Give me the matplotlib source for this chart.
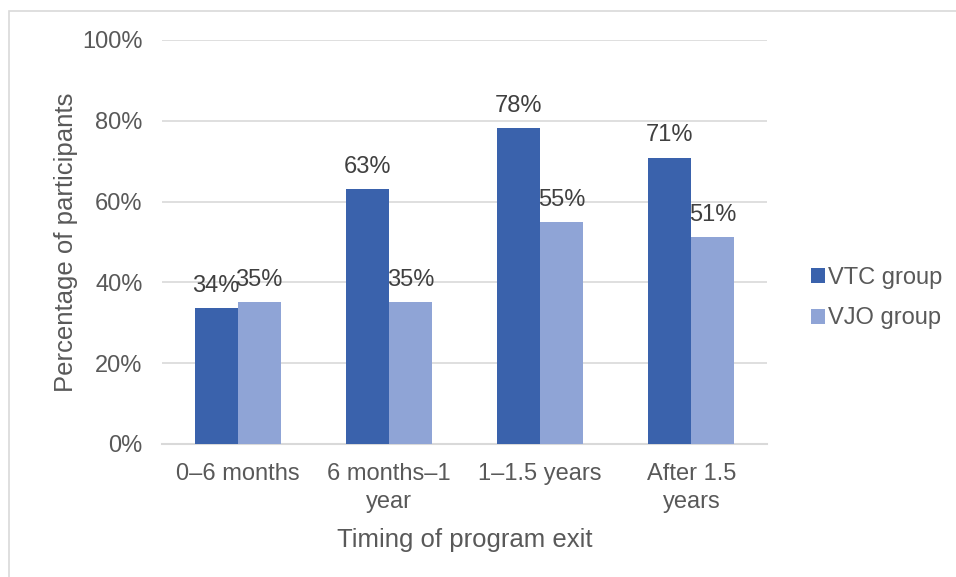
import numpy as np
import matplotlib
matplotlib.use("Agg")
import matplotlib.pyplot as plt
from matplotlib.patches import Rectangle
from matplotlib.ticker import PercentFormatter

# %% Data

categories = ["0\u20136 months", "6 months\u20131\nyear", "1\u20131.5 years", "After 1.5\nyears"]
vtc_values = [33.7, 63.2, 78.1, 70.9]
vjo_values = [35.2, 35.2, 54.9, 51.3]
series_names = ["VTC group", "VJO group"]

# %% Style

plt.rcParams['font.family'] = ['Liberation Sans', 'DejaVu Sans']
text_col = '#595959'
grid_col = '#d9d9d9'
vtc_col = '#3a62ac'
vjo_col = '#8fa4d6'

fig = plt.figure(figsize=(9.56, 5.77), dpi=100)
ax = fig.add_axes([162/956, 1-444/577, (767-162)/956, (444-40)/577])

x = np.arange(len(categories))
w = 0.285
b1 = ax.bar(x - w/2, vtc_values, w, color=vtc_col, label=series_names[0], zorder=3)
b2 = ax.bar(x + w/2, vjo_values, w, color=vjo_col, label=series_names[1], zorder=3)

for bars, vals in [(b1, vtc_values), (b2, vjo_values)]:
    for bar, v in zip(bars, vals):
        ax.annotate(f"{v:.0f}%", (bar.get_x() + bar.get_width()/2, v),
                    xytext=(0, 8), textcoords='offset points', ha='center', va='bottom',
                    fontsize=17, color='#404040')

ax.set_xlim(-0.5, len(categories) - 0.5)
ax.set_ylim(0, 100)
ax.set_yticks(np.arange(0, 101, 20))
ax.yaxis.set_major_formatter(PercentFormatter(decimals=0))
ax.set_xticks(x)
ax.set_xticklabels(categories, linespacing=1.3)
ax.tick_params(axis='both', length=0, labelsize=17, colors=text_col)
ax.tick_params(axis='x', pad=14)
ax.tick_params(axis='y', pad=14)
ax.grid(axis='y', color=grid_col, lw=1.2, zorder=0)
for s in ['top', 'right', 'left']:
    ax.spines[s].set_visible(False)
ax.spines['bottom'].set_color(grid_col)
ax.spines['bottom'].set_linewidth(1.5)

ax.set_xlabel("Timing of program exit", fontsize=18.5, color=text_col, labelpad=11)
ax.set_ylabel("Percentage of participants", fontsize=18.5, color=text_col, labelpad=3)

fig.legend(handles=[b1, b2], loc='center left', bbox_to_anchor=(790/956, 1-298/577),
           frameon=False, fontsize=17, labelcolor=text_col, handlelength=0.6,
           handleheight=0.6, handletextpad=0.1, labelspacing=0.8)

# Outer border (chart frame)
fig.patches.append(Rectangle((8.5/956, -0.1), 1.2, (577-10.5)/577 + 0.1, transform=fig.transFigure,
                             fill=False, edgecolor='#d9d9d9', lw=1.2))

fig.savefig("out.png", dpi=100)
